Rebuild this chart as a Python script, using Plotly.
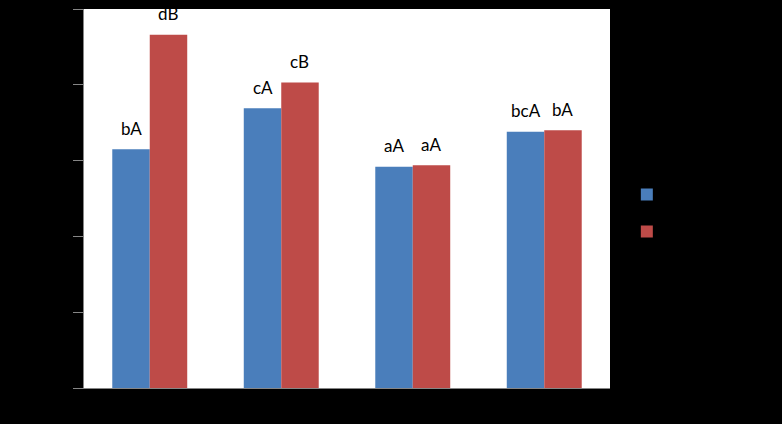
import plotly.graph_objects as go

categories = ["1", "2", "3", "4"]
series_names = ["Series 1", "Series 2"]
blue_values = [3.15, 3.69, 2.92, 3.38]
red_values = [4.66, 4.03, 2.94, 3.40]
blue_labels = ["bA", "cA", "aA", "bcA"]
red_labels = ["dB", "cB", "aA", "bA"]
tick_vals = [0, 1, 2, 3, 4, 5]

x_pos = list(range(len(categories)))

fig = go.Figure()
fig.add_trace(go.Bar(x=x_pos, y=blue_values, name=series_names[0],
                     marker=dict(color="#4a7ebb", line=dict(width=0)),
                     legendgroup="a"))
fig.add_trace(go.Bar(x=x_pos, y=red_values, name=series_names[1],
                     marker=dict(color="#be4b48", line=dict(width=0)),
                     legendgroup="b"))

off = 0.1425
for i in x_pos:
    fig.add_annotation(x=i - off, y=blue_values[i], text=blue_labels[i],
                       showarrow=False, yanchor="middle", yshift=21,
                       font=dict(size=17, color="black", family="Lato"))
    fig.add_annotation(x=i + off, y=red_values[i], text=red_labels[i],
                       showarrow=False, yanchor="middle", yshift=21,
                       font=dict(size=17, color="black", family="Lato"))

fig.update_layout(
    width=782, height=424,
    margin=dict(l=84, r=172, t=9, b=36),
    paper_bgcolor="black", plot_bgcolor="white",
    barmode="group", bargap=0.43, bargroupgap=0,
    showlegend=True,
    legend=dict(x=1.032, y=0.549, xanchor="left", yanchor="top",
                traceorder="grouped", tracegroupgap=18,
                font=dict(color="black", size=12), bgcolor="rgba(0,0,0,0)"),
    font=dict(family="Lato", color="black"),
    xaxis=dict(range=[-0.5, 3.5], tickvals=x_pos, ticktext=categories,
               showline=True, linecolor="#868686", linewidth=1,
               ticks="", showgrid=False, zeroline=False, automargin=False,
               tickfont=dict(color="black")),
    yaxis=dict(range=[0, 5], tickvals=tick_vals,
               showline=True, linecolor="#868686", linewidth=1,
               ticks="outside", ticklen=10, tickcolor="#868686",
               showgrid=False, zeroline=False, automargin=False,
               tickfont=dict(color="black")),
)

fig.write_html("out.html")
